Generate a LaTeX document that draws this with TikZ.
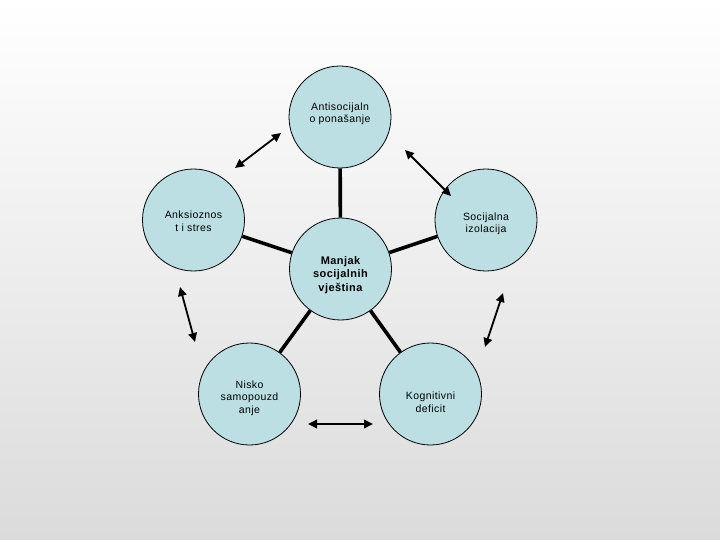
\documentclass[tikz,border=0pt]{standalone}
\usepackage{fontspec}
\setmainfont{Liberation Sans}[LetterSpace=4]
\usetikzlibrary{arrows.meta}
\definecolor{bubfill}{HTML}{BBDFE3}
\definecolor{bgbot}{HTML}{DBDBDB}
\tikzset{
  bub/.style={circle,draw=black,line width=0.8pt,fill=bubfill,minimum size=102pt,inner sep=0pt},
  txt/.style={align=center,inner sep=0pt,font=\fontsize{10.5}{12.5}\selectfont},
  hubtxt/.style={txt,font=\fontsize{11}{13.5}\selectfont\bfseries},
  ar/.style={line width=3.6pt,black},
  arr/.style={{Triangle[length=9pt,width=8.5pt]}-{Triangle[length=9pt,width=8.5pt]},line width=1.8pt,black},
}
\begin{document}
\begin{tikzpicture}[x=1pt,y=-1pt]
    \shade[top color=white,bottom color=bgbot] (0,0) rectangle (720,540);
    \useasboundingbox (0,0) rectangle (720,540);
    % circles
    \node[bub,label={[txt,yshift=3pt]center:Antisocijaln\\o ponašanje}] (anti) at (340,117) {};
    \node[bub,label={[txt,yshift=-1pt]center:Anksioznos\\t i stres}] (anks) at (193.5,220) {};
    \node[bub,label={[txt,yshift=-4pt]center:Socijalna\\izolacija}] (soc) at (486,220) {};
    \node[bub,label={[hubtxt,yshift=-6pt]center:Manjak\\socijalnih\\vještina}] (mid) at (340.5,269) {};
    \node[bub,label={[txt,yshift=-4pt]center:Nisko\\samopouzd\\anje}] (nisko) at (249.5,394) {};
    \node[bub,label={[txt,yshift=-8pt]center:Kognitivni\\deficit}] (kog) at (430.5,394) {};
    % spokes
    \draw[ar] (mid)--(anti);
    \draw[ar] (mid)--(anks);
    \draw[ar] (mid)--(soc);
    \draw[ar] (mid)--(nisko);
    \draw[ar] (mid)--(kog);
    % ring arrows
    \coordinate (tl1) at (235,168);  \coordinate (tl2) at (281,133);
    \coordinate (tr1) at (405,150);  \coordinate (tr2) at (451,196);
    \coordinate (l1) at (180,287);   \coordinate (l2) at (195,342);
    \coordinate (r1) at (503,293);   \coordinate (r2) at (485,347);
    \coordinate (b1) at (308,424);   \coordinate (b2) at (373,424);
    \draw[arr] (tl1)--(tl2);
    \draw[arr] (tr1)--(tr2);
    \draw[arr] (l1)--(l2);
    \draw[arr] (r1)--(r2);
    \draw[arr] (b1)--(b2);
\end{tikzpicture}
\end{document}
